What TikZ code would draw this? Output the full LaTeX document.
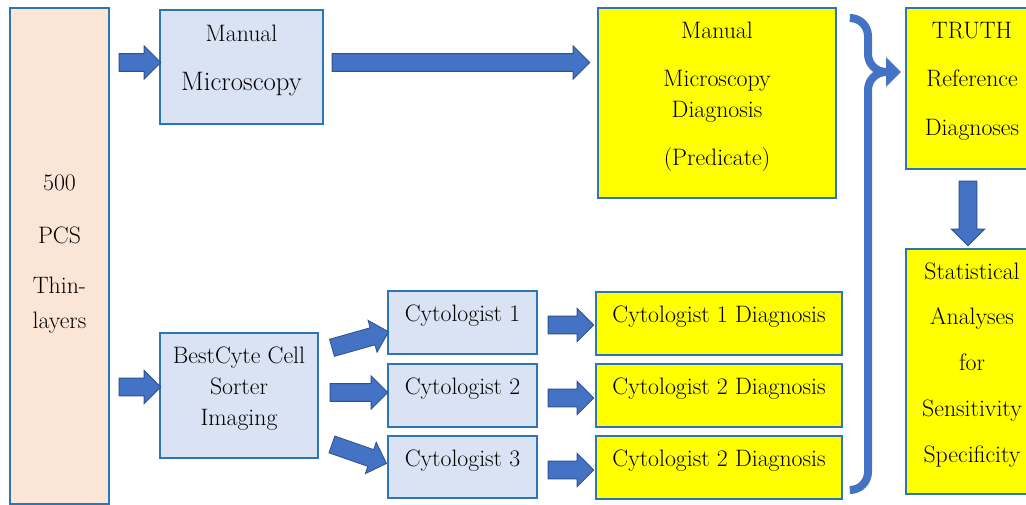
\documentclass[tikz,border=0pt]{standalone}
\usepackage{fontspec}
\usetikzlibrary{calc,shapes.arrows,arrows.meta}

\definecolor{boxblue}{HTML}{2E75B6}
\definecolor{arrowblue}{HTML}{4472C4}
\definecolor{arrowedge}{HTML}{2F528F}
\definecolor{peach}{HTML}{FBE5D6}
\definecolor{paleblue}{HTML}{DAE3F3}
\definecolor{diagyellow}{HTML}{FFFF00}

\newcommand\dgfont{\fontsize{16.9}{20.5}\selectfont}
\newcommand\blockarrow[2]{%
  \path let \p1=(#1), \p2=(#2), \n1={atan2(\y2-\y1,\x2-\x1)}, \n2={veclen(\x2-\x1,\y2-\y1)} in
    node[blkarrow, minimum height=\n2, rotate=\n1] at ($(\p1)!0.5!(\p2)$) {};}

\tikzset{
  box/.style={draw=boxblue, line width=1pt, inner sep=0pt, align=center, font=\dgfont, text depth=13pt},
  samplebox/.style={box, fill=peach},
  stepbox/.style={box, fill=paleblue},
  resultbox/.style={box, fill=diagyellow},
  blkarrow/.style={single arrow, draw=arrowedge, fill=arrowblue, line width=0.6pt,
    inner xsep=0pt, inner ysep=6pt, outer sep=0pt, single arrow head extend=5.5pt,
    single arrow tip angle=90, single arrow head indent=0pt},
  brace/.style={draw=arrowblue, line width=5.7pt, rounded corners=0.45cm}
}

\begin{document}
\begin{tikzpicture}[x=0.025cm,y=-0.025cm]
\useasboundingbox (0,0) rectangle (1026,505);
% boxes
\node[samplebox, text depth=6pt, minimum width=2.475cm, minimum height=12.4cm] (pcs) at (59.5,256) {500\\[17.1pt]PCS\\[14.9pt]Thin-\\[4.3pt]layers};
\node[stepbox, minimum width=4.075cm, minimum height=2.85cm] (mm) at (241.5,67) {Manual\\[14pt]{\fontsize{19}{22}\selectfont Microscopy}};
\node[stepbox, minimum width=3.95cm, minimum height=3.125cm] (bc) at (239,395.5) {BestCyte Cell\\[1.5pt]Sorter\\[1.5pt]Imaging};
\node[stepbox, minimum width=3.725cm, minimum height=1.575cm] (cyto1) at (462.5,322.5) {Cytologist 1};
\node[stepbox, minimum width=3.725cm, minimum height=1.575cm] (cyto2) at (462.5,395.5) {Cytologist 2};
\node[stepbox, minimum width=3.725cm, minimum height=1.55cm] (cyto3) at (462.5,467) {Cytologist 3};
\node[resultbox, minimum width=5.95cm, minimum height=4.75cm] (mmd) at (717,103) {Manual\\[13.5pt]Microscopy\\[1.5pt]Diagnosis\\[13.5pt](Predicate)};
\node[resultbox, minimum width=6.15cm, minimum height=1.575cm] (diag1) at (719,323.5) {Cytologist 1 Diagnosis};
\node[resultbox, minimum width=6.15cm, minimum height=1.575cm] (diag2) at (719,395.5) {Cytologist 2 Diagnosis};
\node[resultbox, minimum width=6.15cm, minimum height=1.575cm] (diag3) at (719,467.5) {Cytologist 2 Diagnosis};
\node[resultbox, minimum width=3.3cm, minimum height=4.025cm] (truth) at (972,88.5) {TRUTH\\[13.5pt]Reference\\[14.5pt]Diagnoses};
\node[resultbox, minimum width=3.3cm, minimum height=6.125cm] (stat) at (972,371.5) {Statistical\\[12pt]Analyses\\[12pt]for\\[12pt]Sensitivity\\[12pt]Specificity};
% block arrows
\blockarrow{$(pcs.east |- mm.west)+(5,-4.5)$}{$(mm.west)+(-3,-4.5)$}
\blockarrow{$(mm.east)+(4,-4.5)$}{$(mmd.west |- mm.west)+(-12,-4.5)$}
\blockarrow{$(pcs.east |- bc.west)+(5,-8.5)$}{$(bc.west)+(-3,-8.5)$}
\blockarrow{$(bc.east)+(9,-46.5)$}{$(cyto1.west)+(-3,10.5)$}
\blockarrow{$(bc.east)+(7,-3)$}{$(cyto2.west)+(-4,-3)$}
\blockarrow{$(bc.east)+(9,47.5)$}{$(cyto3.west)+(-5,-5)$}
\blockarrow{$(cyto1.east)+(6,2.5)$}{$(diag1.west)+(-6,1.5)$}
\blockarrow{$(cyto2.east)+(6,2.5)$}{$(diag2.west)+(-6,2.5)$}
\blockarrow{$(cyto3.east)+(6,3)$}{$(diag3.west)+(-6,2.5)$}
\blockarrow{$(truth.south)+(-4,7)$}{$(stat.north)+(-4,-7)$}
% brace into truth
\coordinate (bracetip) at (901,72);
\draw[brace] (850,490) -| (868,72) -- (886,72);
\draw[brace, -{Triangle[length=10.5pt,width=20pt]}] (850,18) -| (868,72) -- (bracetip);
\end{tikzpicture}
\end{document}
